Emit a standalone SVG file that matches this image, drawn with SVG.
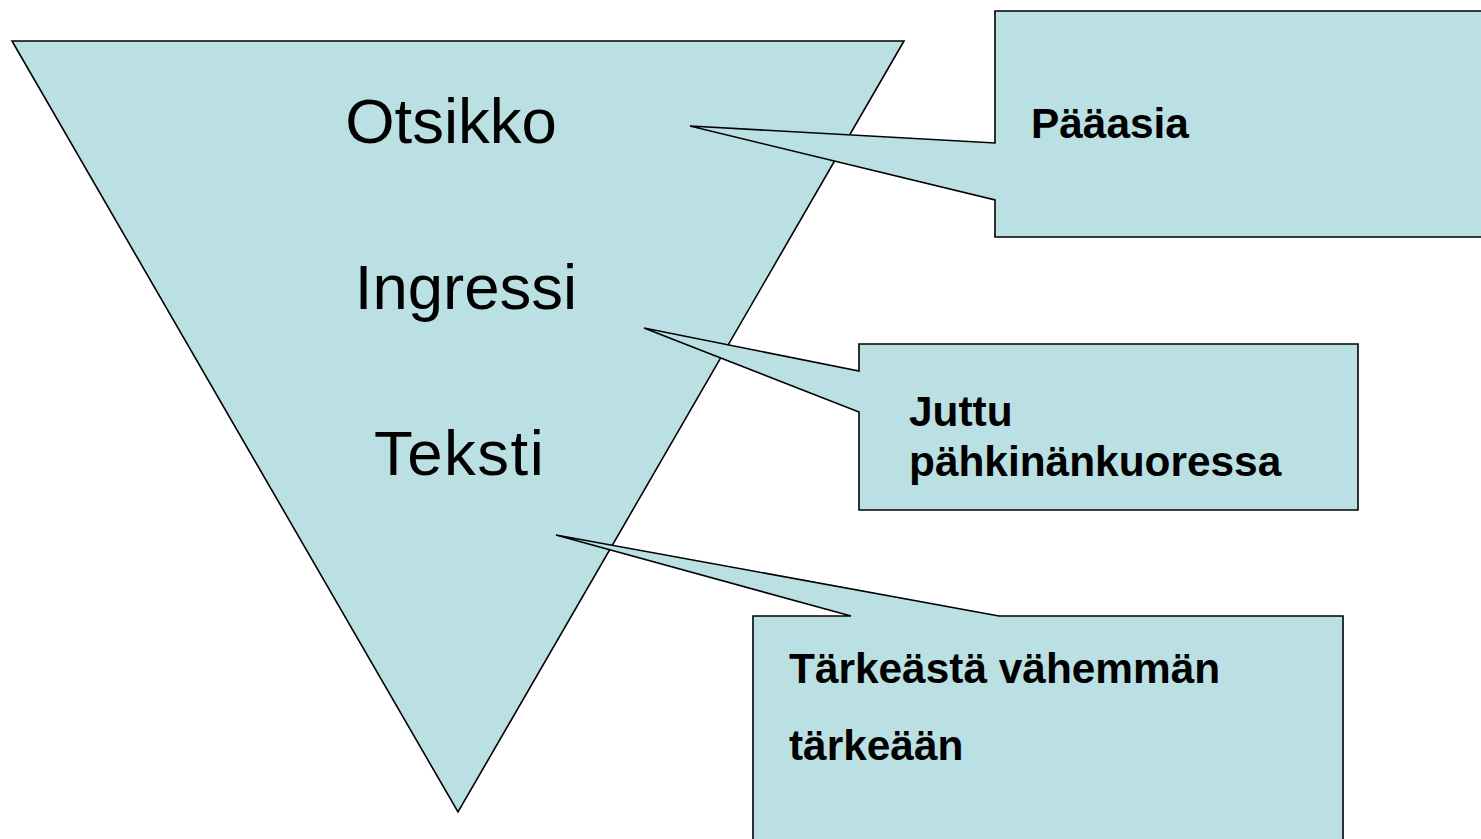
<svg xmlns="http://www.w3.org/2000/svg" width="1481" height="839" viewBox="0 0 1481 839">
<style>
.shape{fill:#BBE0E3;stroke:#000;stroke-width:1.6;stroke-linejoin:miter}
.big{font-family:"Liberation Sans",Arial,sans-serif;font-size:63.5px;fill:#000}
.lbl{font-family:"Liberation Sans",Arial,sans-serif;font-size:42.4px;font-weight:bold;fill:#000}
</style>
<rect width="1481" height="839" fill="#fff"/>
<g id="triangle">
<polygon class="shape" points="12,41 904,41 458,812"/>
<text class="big" x="451" y="143" text-anchor="middle">Otsikko</text>
<text class="big" x="466" y="309" text-anchor="middle">Ingressi</text>
<text class="big" x="374" y="475" letter-spacing="1.5">Teksti</text>
</g>
<g id="connectors"></g>
<g id="callout-paaasia">
<path class="shape" d="M995,11 H1490 V237 H995 V200 L690,126 L995,143 Z"/>
<text class="lbl" x="1031" y="138">Pääasia</text>
</g>
<g id="callout-juttu">
<path class="shape" d="M859,344 H1358 V510 H859 V412 L644,328 L859,371 Z"/>
<text class="lbl" x="909" y="426">Juttu</text>
<text class="lbl" x="909" y="476">pähkinänkuoressa</text>
</g>
<g id="callout-tarkeasta">
<path class="shape" d="M753,616 H851 L556,535 L999,616 H1343 V850 H753 Z"/>
<text class="lbl" x="789" y="683">Tärkeästä vähemmän</text>
<text class="lbl" x="789" y="760">tärkeään</text>
</g>
</svg>
